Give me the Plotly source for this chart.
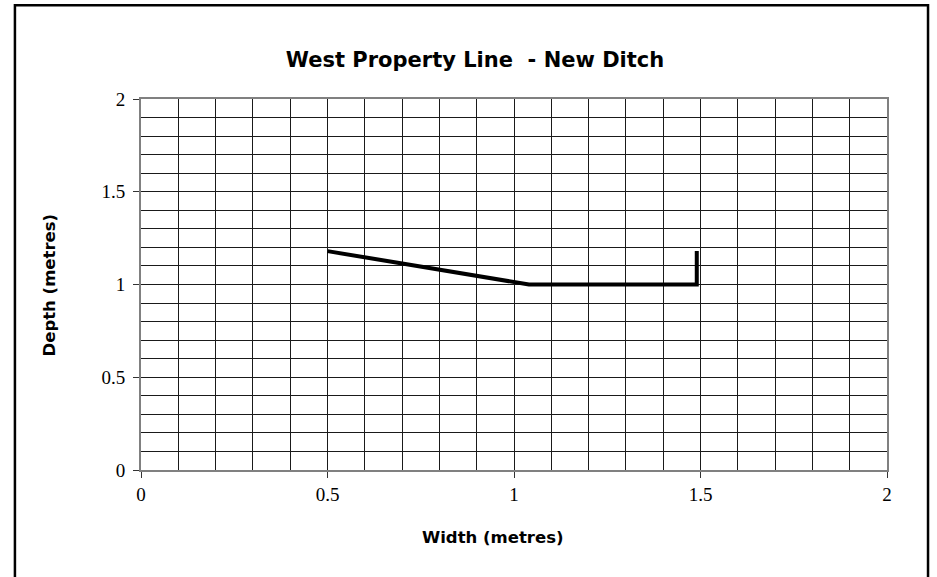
import plotly.graph_objects as go

# Ditch cross-section profile
width_m = [0.5, 1.04, 1.49, 1.49]
depth_m = [1.18, 1.0, 1.0, 1.18]

x_ticks = [0, 0.5, 1, 1.5, 2]
y_ticks = [0, 0.5, 1, 1.5, 2]

fig = go.Figure()
fig.add_trace(go.Scatter(
    x=width_m, y=depth_m, mode="lines",
    line=dict(color="black", width=4),
    showlegend=False, hoverinfo="skip",
))

tick_font = dict(family="Liberation Serif, Times New Roman, serif", size=19, color="black")
label_font = dict(family="DejaVu Sans, Arial, sans-serif", size=16.5, color="black")

fig.update_xaxes(
    range=[0, 2], tickvals=x_ticks, ticktext=[f"{v:g}" for v in x_ticks],
    showgrid=True, gridcolor="#1a1a1a", gridwidth=1,
    minor=dict(dtick=0.1, showgrid=True, gridcolor="#1a1a1a", gridwidth=1),
    showline=True, linecolor="#808080", linewidth=2, mirror=True,
    ticks="outside", ticklen=6, tickcolor="#333333", tickwidth=1,
    tickfont=tick_font, zeroline=False,
)
fig.update_yaxes(
    range=[0, 2], tickvals=y_ticks, ticktext=[f"{v:g}" for v in y_ticks],
    showgrid=True, gridcolor="#1a1a1a", gridwidth=1,
    minor=dict(dtick=0.1, showgrid=True, gridcolor="#1a1a1a", gridwidth=1),
    showline=True, linecolor="#808080", linewidth=2, mirror=True,
    ticks="outside", ticklen=6, tickcolor="#333333", tickwidth=1,
    tickfont=tick_font, zeroline=False, ticklabelstandoff=4,
)

fig.update_layout(
    width=937, height=577,
    margin=dict(l=141, r=50, t=99, b=107),
    paper_bgcolor="white", plot_bgcolor="white",
    title=dict(
        text="<b>West Property Line  - New Ditch</b>",
        font=dict(family="DejaVu Sans, Arial, sans-serif", size=21, color="black"),
        x=0.507, xanchor="center", y=0.896, yanchor="middle",
    ),
    annotations=[
        dict(text="<b>Width (metres)</b>", font=label_font, showarrow=False,
             xref="paper", yref="paper", x=0.472, y=-0.183,
             xanchor="center", yanchor="middle"),
        dict(text="<b>Depth (metres)</b>", font=label_font, showarrow=False,
             xref="paper", yref="paper", x=-0.122, y=0.5, textangle=-90,
             xanchor="center", yanchor="middle"),
    ],
    shapes=[dict(
        type="rect", xref="paper", yref="paper",
        x0=-0.169, x1=1.055, y0=-0.296, y1=1.253,
        line=dict(color="black", width=2.5), fillcolor="rgba(0,0,0,0)", layer="below",
    )],
)

fig.write_html("out.html")
